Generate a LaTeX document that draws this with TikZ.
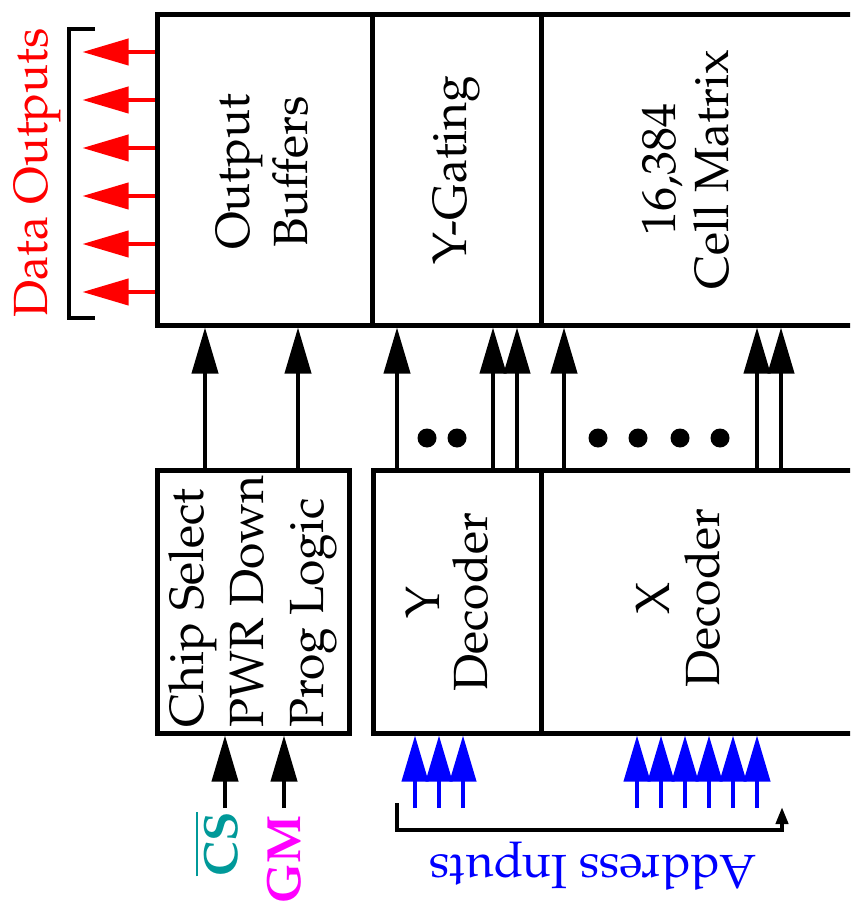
\documentclass[tikz,border=0pt]{standalone}
\usepackage[T1]{fontenc}
\usepackage{mathpazo}
\usetikzlibrary{arrows.meta}
\definecolor{csteal}{RGB}{0,153,153}
\definecolor{gmmagenta}{RGB}{255,0,255}
\definecolor{addrblue}{RGB}{0,0,255}
\definecolor{doutred}{RGB}{255,0,0}

\begin{document}
\begin{tikzpicture}[x=0.5pt, y=-0.5pt,
    font=\fontsize{24}{30}\selectfont,
    blk/.style={draw, line width=2.5pt, inner sep=0pt},
    txt/.style={rotate=90, align=center},
    arr/.style={line width=2pt, -{Triangle[length=23pt, width=13pt]}},
    brk/.style={line width=2pt}]
    \useasboundingbox (0,0) rectangle (850,903);
    \clip (0,0) rectangle (850,903);
    % upper row
    \node[blk, minimum width=107.5pt, minimum height=155pt] (outbuf) at (264.5,170) {};
    \node[blk, minimum width=84.5pt, minimum height=155pt] (ygate) at (456.5,170) {};
    \node[blk, minimum width=179.5pt, minimum height=155pt] (cells) at (720.5,170) {};
    \node[txt, font=\fontsize{24}{29}\selectfont] (outbuftxt) at (262,172) {Output\\Buffers};
    \node[txt] (ygatetxt) at (ygate) {Y-Gating};
    \node[txt, font=\fontsize{24}{26.5}\selectfont] (cellstxt) at (686,170) {16,384\\Cell Matrix};
    % lower row
    \node[blk, minimum width=96pt, minimum height=131.5pt] (chipsel) at (253,601.5) {};
    \node[blk, minimum width=84pt, minimum height=131.5pt] (ydec) at (457,601.5) {};
    \node[blk, minimum width=179.5pt, minimum height=131.5pt] (xdec) at (720.5,601.5) {};
    \node[txt, align=left] (chipseltxt) at (chipsel) {Chip Select\\PWR Down\\Prog Logic};
    \node[txt, font=\fontsize{24}{24}\selectfont] (ydectxt) at (447,602) {Y\\Decoder};
    \node[txt, font=\fontsize{24}{25}\selectfont] (xdectxt) at (678.5,598) {X\\Decoder};
    % between the rows
    \foreach \x in {205,298} \draw[arr] (chipsel.north -| \x,0) -- (outbuf.south -| \x,0);
    \foreach \x in {397,493,517} \draw[arr] (ydec.north -| \x,0) -- (ygate.south -| \x,0);
    \foreach \x in {564,757,781} \draw[arr] (xdec.north -| \x,0) -- (cells.south -| \x,0);
    \foreach \x in {427,457,598,638,680,720} \fill (\x,438) circle (4.75pt);
    % data outputs
    \foreach \y in {52,100,148,196,244,292} \draw[arr, doutred] (outbuf.west |- 0,\y) -- ++(-72,0);
    \draw[brk] (95,29) -| (69,318) -- (95,318);
    \node[doutred, rotate=90, anchor=base] (doutlbl) at (47,173) {Data Outputs};
    % control inputs
    \coordinate (cs) at (225,808);
    \coordinate (gm) at (284,808);
    \draw[arr] (cs) -- (chipsel.south -| cs);
    \draw[arr] (gm) -- (chipsel.south -| gm);
    \node[csteal, rotate=90, anchor=base east, inner sep=0pt] (cslbl) at (237,812) {$\overline{\mbox{\textbf{CS}}}$};
    \node[gmmagenta, rotate=90, anchor=base east, inner sep=0pt] (gmlbl) at (300,815) {\textbf{GM}};
    % address inputs
    \foreach \x in {415,439,463} \draw[arr, addrblue] (\x,808) -- (ydec.south -| \x,0);
    \foreach \x in {637,661,...,757} \draw[arr, addrblue] (\x,808) -- (xdec.south -| \x,0);
    \draw[brk, -{Triangle[length=8.5pt, width=6pt]}] (397,803) |- (782,830) -- (782,807);
    \node[addrblue, rotate=180] (addrlbl) at (593,866) {Address Inputs};
\end{tikzpicture}
\end{document}
